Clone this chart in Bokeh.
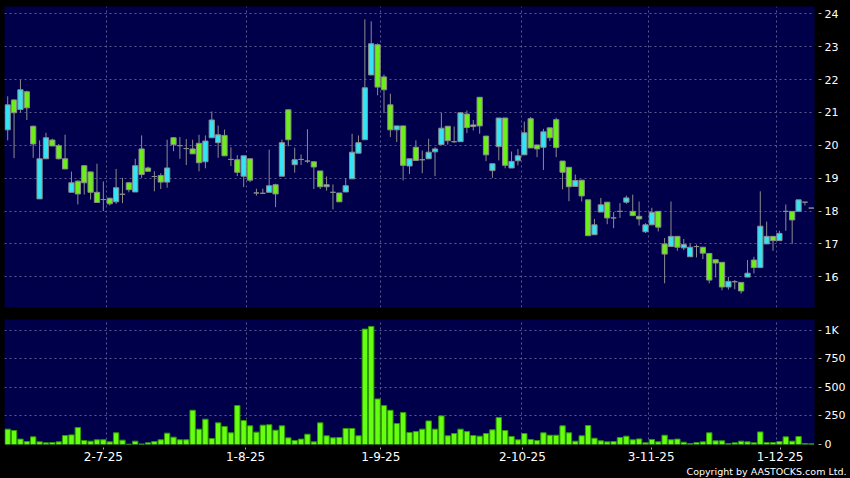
from bokeh.plotting import figure
from bokeh.layouts import column
from bokeh.models import (Range1d, FixedTicker, ColumnDataSource, Title,
                          GlobalInlineStyleSheet)
from bokeh.embed import file_html
from bokeh.resources import INLINE

# ---------------- data ----------------
opens = [20.47, 21.38, 21.09, 21.63, 20.58, 18.37, 19.59, 20.16, 19.99, 19.59,
         18.57, 18.91, 19.38, 19.19, 18.57, 18.35, 18.39, 18.28, 18.51, 18.86,
         18.58, 19.89, 19.31, 19.05, 19.08, 18.88, 20.23, 19.99, 19.90, 19.89,
         20.06, 19.50, 20.23, 20.08, 20.30, 19.57, 19.56, 19.06, 19.59, 18.55,
         18.54, 18.57, 18.80, 19.06, 21.08, 19.41, 19.57, 19.52, 19.50, 19.22,
         18.74, 18.57, 18.55, 18.58, 18.98, 19.76, 20.17, 22.14, 23.06, 22.08,
         21.23, 20.47, 20.59, 19.37, 19.94, 19.56, 19.59, 19.80, 20.02, 20.58,
         20.11, 20.11, 20.95, 20.57, 21.46, 20.28, 19.23, 19.96, 20.83, 19.31,
         19.53, 19.71, 20.81, 20.01, 19.94, 20.53, 20.78, 19.52, 19.33, 18.75,
         18.94, 18.34, 17.28, 17.97, 18.27, 17.79, 17.99, 18.27, 17.99, 17.84,
         17.37, 17.58, 17.99, 17.00, 16.92, 17.23, 16.88, 16.61, 16.92, 16.90,
         16.71, 16.52, 16.44, 15.69, 15.85, 15.83, 15.99, 16.51, 16.28, 17.00,
         17.23, 17.10, 17.99, 17.99, 17.99, 18.27, 18.09]
highs = [21.49, 21.40, 22.00, 21.66, 20.60, 20.15, 20.38, 20.20, 20.04, 20.32,
         19.20, 18.93, 19.40, 19.20, 19.44, 18.90, 18.40, 19.28, 19.01, 18.88,
         19.59, 20.30, 19.35, 19.21, 19.15, 20.17, 20.25, 20.25, 20.19, 20.17,
         20.32, 20.30, 21.03, 20.60, 20.48, 19.94, 19.70, 19.68, 19.60, 18.68,
         18.68, 19.87, 18.83, 20.17, 21.08, 19.93, 19.72, 20.49, 19.50, 19.22,
         19.05, 18.81, 18.55, 19.00, 20.35, 20.30, 23.83, 23.77, 23.10, 22.15,
         21.57, 20.59, 20.59, 19.59, 20.15, 19.84, 20.20, 19.94, 20.99, 20.58,
         20.57, 20.99, 21.06, 20.77, 21.46, 20.28, 19.44, 20.83, 20.83, 19.81,
         19.89, 20.72, 20.86, 20.01, 20.50, 20.53, 20.84, 19.52, 19.33, 19.11,
         18.94, 18.34, 17.76, 18.40, 18.27, 17.97, 18.24, 18.47, 18.50, 18.29,
         17.63, 18.10, 17.99, 17.18, 18.29, 17.23, 17.15, 17.02, 16.98, 16.90,
         16.71, 16.52, 16.44, 16.00, 15.90, 15.83, 16.51, 16.61, 18.60, 17.68,
         17.23, 17.40, 18.20, 17.99, 18.34, 18.27, 18.09]
lows = [20.15, 19.61, 21.00, 20.77, 19.62, 18.37, 19.59, 19.98, 19.57, 19.28,
        18.57, 18.20, 18.50, 18.35, 18.26, 18.00, 18.17, 18.22, 18.24, 18.57,
        18.58, 19.01, 19.21, 18.60, 18.67, 18.71, 19.82, 19.59, 19.40, 19.74,
        19.21, 19.30, 20.23, 19.62, 19.68, 19.37, 19.06, 18.73, 18.88, 18.47,
        18.54, 18.57, 18.12, 19.06, 19.97, 19.17, 19.40, 19.46, 18.67, 18.67,
        18.62, 18.05, 18.28, 18.58, 18.98, 19.76, 20.17, 22.14, 21.52, 20.98,
        20.25, 20.10, 18.93, 19.13, 19.54, 19.15, 19.59, 19.06, 20.02, 20.02,
        20.07, 20.11, 20.37, 20.45, 20.35, 19.52, 19.01, 19.54, 19.30, 19.31,
        19.39, 19.71, 19.92, 19.64, 19.25, 20.13, 19.64, 18.66, 18.30, 18.75,
        18.29, 17.25, 17.28, 17.97, 17.60, 17.48, 17.79, 18.22, 17.86, 17.56,
        17.33, 17.58, 17.38, 15.80, 16.92, 16.79, 16.81, 16.61, 16.59, 16.54,
        15.80, 15.98, 15.59, 15.61, 15.62, 15.49, 15.99, 16.10, 16.28, 17.00,
        16.79, 17.10, 17.40, 17.00, 17.99, 18.17, 18.09]
closes = [21.23, 20.99, 21.69, 21.14, 20.04, 19.59, 20.23, 19.98, 19.59, 19.28,
          18.86, 18.52, 18.86, 18.57, 18.26, 18.35, 18.22, 18.71, 18.51, 18.65,
          19.38, 19.11, 19.21, 19.05, 18.88, 19.31, 20.02, 19.99, 19.90, 19.74,
          19.47, 20.13, 20.77, 20.32, 19.68, 19.57, 19.18, 19.68, 18.94, 18.55,
          18.54, 18.77, 18.52, 20.08, 20.17, 19.56, 19.57, 19.52, 19.34, 18.74,
          18.80, 18.57, 18.28, 18.77, 19.79, 20.08, 21.75, 23.09, 21.77, 21.69,
          20.47, 20.59, 19.39, 19.59, 19.54, 19.56, 19.79, 19.89, 20.52, 20.14,
          20.11, 20.99, 20.54, 20.62, 20.59, 19.71, 19.44, 20.83, 19.39, 19.51,
          19.68, 20.38, 19.92, 19.89, 20.41, 20.23, 19.93, 19.18, 18.74, 18.93,
          18.46, 17.25, 17.58, 18.19, 17.79, 17.79, 17.99, 18.40, 17.86, 17.76,
          17.58, 17.96, 17.51, 16.69, 17.23, 16.90, 16.98, 16.90, 16.92, 16.72,
          15.90, 16.42, 15.69, 15.86, 15.85, 15.57, 16.11, 16.28, 17.54, 17.23,
          17.10, 17.32, 17.99, 17.73, 18.34, 18.27, 18.09]
volumes = [134, 122, 47, 26, 67, 23, 15, 17, 23, 78,
           84, 148, 35, 29, 41, 41, 23, 102, 38, 3,
           29, 5, 15, 26, 41, 99, 64, 41, 41, 299,
           134, 221, 52, 189, 157, 102, 340, 209, 163, 108,
           169, 172, 125, 163, 58, 35, 47, 90, 23, 189,
           76, 58, 61, 140, 140, 76, 1008, 1031, 398, 340,
           299, 183, 279, 105, 113, 134, 206, 134, 250, 76,
           96, 134, 113, 78, 73, 96, 128, 235, 122, 70,
           41, 96, 44, 35, 102, 81, 81, 163, 102, 29,
           76, 166, 55, 32, 23, 26, 61, 73, 41, 49,
           15, 44, 23, 81, 41, 47, 20, 9, 17, 23,
           102, 32, 32, 9, 15, 29, 23, 15, 110, 17,
           17, 26, 67, 29, 70, 9, 6]

price_ticks = [16, 17, 18, 19, 20, 21, 22, 23, 24]
vol_ticks = [0, 250, 500, 750, 1000]
vol_tick_labels = ["0", "250", "500", "750", "1K"]
date_labels = ["2-7-25", "1-8-25", "1-9-25", "2-10-25", "3-11-25", "1-12-25"]
date_label_pos = [15.0, 37.3, 58.5, 80.7, 100.9, 121.1]
date_grid_pos = [15.5, 37.5, 58.5, 80.5, 100.5, 120.5]

# ---------------- styling ----------------
NAVY = "#00004a"
GRID = "#5a5a92"
UP = "#33e4f4"
DOWN = "#6cee18"
FLAT = "#8c8c8c"
EDGE = "#8c8c8c"
FONT = "DejaVu Sans"

n = len(opens)
xs = list(range(n))
colors = [UP if c > o else (DOWN if c < o else FLAT) for o, c in zip(opens, closes)]
src = ColumnDataSource(dict(
    x=xs, high=highs, low=lows,
    top=[max(o, c) for o, c in zip(opens, closes)],
    bottom=[min(o, c) for o, c in zip(opens, closes)],
    color=colors, vol=volumes))

xr = Range1d(-0.5, n - 0.5)


def style(p):
    p.background_fill_color = NAVY
    p.border_fill_color = "black"
    p.outline_line_color = None
    p.xgrid.ticker = FixedTicker(ticks=date_grid_pos)
    for g in (p.xgrid, p.ygrid):
        g.grid_line_color = GRID
        g.grid_line_dash = "2 3"
        g.grid_line_width = 1
    ax = p.yaxis[0]
    ax.axis_line_color = None
    ax.major_tick_in = -4
    ax.major_tick_out = 7
    ax.major_tick_line_color = "#b0b0b0"
    ax.minor_tick_line_color = None
    ax.major_label_standoff = 3
    ax.major_label_text_color = "white"
    ax.major_label_text_font = FONT
    ax.major_label_text_font_size = "11px"


p1 = figure(width=850, height=312, x_range=xr, y_range=Range1d(15.066, 24.222),
            output_backend="svg", toolbar_location=None,
            x_axis_location=None, y_axis_location="right",
            min_border_left=4, min_border_right=36, min_border_top=6, min_border_bottom=5)
style(p1)
p1.ygrid.ticker = FixedTicker(ticks=price_ticks)
p1.yaxis.ticker = FixedTicker(ticks=price_ticks)

p1.segment(x0="x", y0="low", x1="x", y1="high", source=src, line_color=EDGE, line_width=1)
p1.vbar(x="x", width=0.82, top="top", bottom="bottom", source=src,
        fill_color="color", line_color=EDGE, line_width=1)

p2 = figure(width=850, height=166, x_range=xr, y_range=Range1d(0, 1092),
            output_backend="svg", toolbar_location=None,
            x_axis_location="below", y_axis_location="right",
            min_border_left=4, min_border_right=36, min_border_top=7, min_border_bottom=34)
style(p2)
p2.ygrid.ticker = FixedTicker(ticks=vol_ticks)
p2.yaxis.ticker = FixedTicker(ticks=vol_ticks)
p2.yaxis.major_label_overrides = {t: s for t, s in zip(vol_ticks, vol_tick_labels)}

xa = p2.xaxis[0]
xa.ticker = FixedTicker(ticks=date_label_pos)
xa.major_label_overrides = {t: s for t, s in zip(date_label_pos, date_labels)}
xa.axis_line_color = None
xa.major_tick_in = -3
xa.major_tick_out = 5
xa.major_tick_line_color = "#b0b0b0"
xa.minor_tick_line_color = None
xa.major_label_standoff = 2
xa.major_label_text_color = "white"
xa.major_label_text_font = FONT
xa.major_label_text_font_size = "12px"

p2.vbar(x="x", width=0.84, top="vol", bottom=0, source=src,
        fill_color="#66ff11", line_color="#2f9a00", line_width=1)

p2.add_layout(Title(text="Copyright by AASTOCKS.com Ltd.", align="right", offset=-32,
                    standoff=0, text_color="white", text_font=FONT,
                    text_font_size="9.5px", text_font_style="normal"), "below")

layout = column(p1, p2, spacing=0,
                stylesheets=[GlobalInlineStyleSheet(
                    css="html, body {margin:0 !important; padding:0; background:#000; overflow:hidden;}")])

open("out.html", "w").write(file_html(layout, INLINE))
